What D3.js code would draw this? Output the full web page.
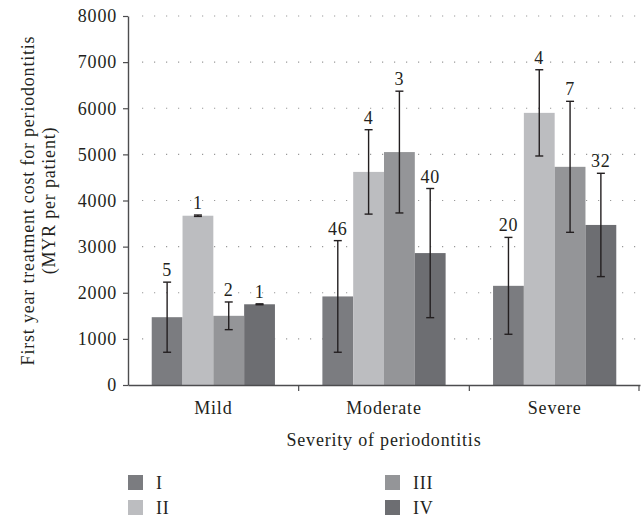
<!DOCTYPE html>
<html>
<head>
<meta charset="utf-8">
<script src="https://cdn.jsdelivr.net/npm/d3@7"></script>
<style>
  body { margin: 0; background: #fff; }
  svg text { font-family: "Liberation Serif", "Times New Roman", Times, serif; fill: #231f20; letter-spacing: 0.8px; }
</style>
</head>
<body>
<svg id="chart" width="641" height="519"></svg>
<script>
// Severity groups and treatment stages
const categories = ["Mild", "Moderate", "Severe"];
const stages = ["I", "II", "III", "IV"];

// Mean first-year cost (MYR per patient), one array per stage, ordered by category
const meanI   = [1470, 1920, 2150];
const meanII  = [3670, 4620, 5900];
const meanIII = [1500, 5050, 4730];
const meanIV  = [1750, 2860, 3470];

// Standard deviation for the error bars
const sdI   = [760, 1210, 1050];
const sdII  = [15, 915, 935];
const sdIII = [300, 1320, 1420];
const sdIV  = [10, 1400, 1120];

// Number of patients shown above each bar
const nI   = [5, 46, 20];
const nII  = [1, 4, 4];
const nIII = [2, 3, 7];
const nIV  = [1, 40, 32];

const yTicks = [0, 1000, 2000, 3000, 4000, 5000, 6000, 7000, 8000];
const colors = ["#7b7c80", "#bcbdc0", "#949598", "#6d6e72"];

const means = [meanI, meanII, meanIII, meanIV];
const sds = [sdI, sdII, sdIII, sdIV];
const ns = [nI, nII, nIII, nIV];

const FONT = '"Liberation Serif", "Times New Roman", Times, serif';
const FS = 18;

const svg = d3.select("#chart");
const margin = { left: 128, right: 1, top: 16, bottom: 134 };
const W = 641, H = 519;
const plotBottom = H - margin.bottom;

const x0 = d3.scaleBand().domain(categories).range([margin.left, W - margin.right]);
const x1 = d3.scaleBand().domain(stages).range([0, x0.bandwidth()]).paddingOuter(0.77);
const y = d3.scaleLinear().domain([0, 8000]).range([plotBottom, margin.top]);

// Dotted grid
svg.append("g")
  .selectAll("line")
  .data(yTicks.filter(t => t > 0))
  .join("line")
  .attr("x1", margin.left + 14)
  .attr("x2", W - 3)
  .attr("y1", d => y(d))
  .attr("y2", d => y(d))
  .attr("stroke", "#999999")
  .attr("stroke-width", 1.1)
  .attr("stroke-dasharray", "1.2,10.8");

// Bars
const rows = [];
categories.forEach((c, ci) => {
  stages.forEach((s, si) => {
    rows.push({ c, s, si, mean: means[si][ci], sd: sds[si][ci], n: ns[si][ci] });
  });
});

svg.append("g")
  .selectAll("rect")
  .data(rows)
  .join("rect")
  .attr("x", d => x0(d.c) + x1(d.s))
  .attr("y", d => y(d.mean))
  .attr("width", x1.bandwidth())
  .attr("height", d => y(0) - y(d.mean))
  .attr("fill", d => colors[d.si]);

// Error bars
const eb = svg.append("g").attr("stroke", "#231f20").attr("stroke-width", 1.4);
const cx = d => x0(d.c) + x1(d.s) + x1.bandwidth() / 2;
eb.selectAll("line.v").data(rows).join("line")
  .attr("x1", cx).attr("x2", cx)
  .attr("y1", d => y(d.mean + d.sd)).attr("y2", d => y(d.mean - d.sd));
eb.selectAll("line.t").data(rows).join("line")
  .attr("x1", d => cx(d) - 4).attr("x2", d => cx(d) + 4)
  .attr("y1", d => y(d.mean + d.sd)).attr("y2", d => y(d.mean + d.sd));
eb.selectAll("line.b").data(rows).join("line")
  .attr("x1", d => cx(d) - 4).attr("x2", d => cx(d) + 4)
  .attr("y1", d => y(d.mean - d.sd)).attr("y2", d => y(d.mean - d.sd));

// Patient counts
svg.append("g")
  .selectAll("text")
  .data(rows)
  .join("text")
  .attr("x", cx)
  .attr("y", d => y(d.mean + d.sd) - 6)
  .attr("text-anchor", "middle")
  .attr("font-size", FS)
  .text(d => d.n);

// Y axis
const yAxis = svg.append("g")
  .attr("transform", `translate(${margin.left},0)`)
  .call(d3.axisLeft(y).tickValues(yTicks).tickFormat(d3.format("d")).tickSize(5).tickSizeOuter(0).tickPadding(6));
yAxis.attr("font-family", FONT);
yAxis.select(".domain").attr("stroke", "#4d4d4f").attr("stroke-width", 1.4);
yAxis.selectAll(".tick line").attr("stroke", "#4d4d4f").attr("stroke-width", 1.2);
yAxis.selectAll(".tick text").attr("font-size", FS).attr("fill", "#231f20");

// X axis
const xAxis = svg.append("g")
  .attr("transform", `translate(0,${plotBottom})`)
  .call(d3.axisBottom(x0).tickSize(0).tickPadding(16));
xAxis.attr("font-family", FONT);
xAxis.select(".domain").attr("stroke", "#4d4d4f").attr("stroke-width", 1.4);
xAxis.selectAll(".tick text").attr("font-size", FS).attr("fill", "#231f20");
// separators between groups
svg.append("g")
  .selectAll("line")
  .data(categories)
  .join("line")
  .attr("x1", d => Math.min(x0(d) + x0.bandwidth(), W - 2))
  .attr("x2", d => Math.min(x0(d) + x0.bandwidth(), W - 2))
  .attr("y1", plotBottom)
  .attr("y2", plotBottom + 6)
  .attr("stroke", "#4d4d4f")
  .attr("stroke-width", 1.2);

// Axis titles
svg.append("text")
  .attr("transform", `translate(34,${(margin.top + plotBottom) / 2}) rotate(-90)`)
  .attr("text-anchor", "middle")
  .attr("font-size", FS)
  .text("First year treatment cost for periodontitis");
svg.append("text")
  .attr("transform", `translate(55,${(margin.top + plotBottom) / 2}) rotate(-90)`)
  .attr("text-anchor", "middle")
  .attr("font-size", FS)
  .text("(MYR per patient)");
svg.append("text")
  .attr("x", (margin.left + W - margin.right) / 2)
  .attr("y", 446)
  .attr("text-anchor", "middle")
  .attr("font-size", FS)
  .text("Severity of periodontitis");

// Legend
const legendPos = [[128, 475], [128, 500], [385, 475], [385, 500]];
const lg = svg.append("g").selectAll("g").data(stages).join("g")
  .attr("transform", (d, i) => `translate(${legendPos[i][0]},${legendPos[i][1]})`);
lg.append("rect").attr("width", 15).attr("height", 15).attr("fill", (d, i) => colors[i]);
lg.append("text").attr("x", 28).attr("y", 14).attr("font-size", FS).text(d => d);
</script>
</body>
</html>
